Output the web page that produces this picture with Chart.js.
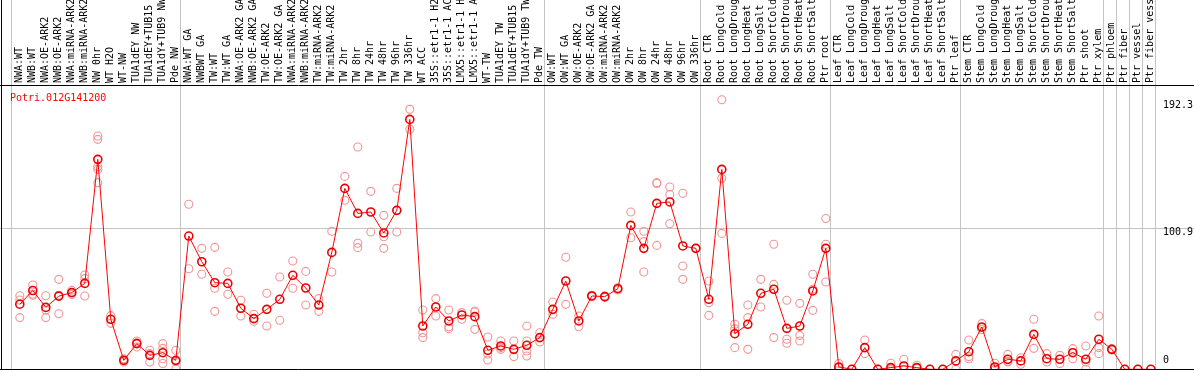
<!DOCTYPE html>
<html><head><meta charset="utf-8">
<script src="https://cdn.jsdelivr.net/npm/chart.js@4.4.1/dist/chart.umd.min.js"></script>
<style>html,body{margin:0;padding:0;background:#fff}canvas{display:block}</style>
</head><body>
<canvas id="c" width="1194" height="370"></canvas>
<script>
const geneId = 'Potri.012G141200';
const categories = [
  'NWA:WT','NWB:WT','NWA:OE-ARK2','NWB:OE-ARK2','NWA:miRNA-ARK2','NWB:miRNA-ARK2','NW 0hr','WT H2O','WT-NW','TUA1dEY NW','TUA1dEY+TUB15','TUA1dY+TUB9 NW','Pde NW',
  'NWA:WT GA','NWBWT GA','TW:WT','TW:WT GA','NWA:OE-ARK2 GA','NWB:OE-ARK2 GA','TW:OE-ARK2','TW:OE-ARK2 GA','NWA:miRNA-ARK2 GA','NWB:miRNA-ARK2 GA','TW:miRNA-ARK2','TW:miRNA-ARK2 GA',
  'TW 2hr','TW 8hr','TW 24hr','TW 48hr','TW 96hr','TW 336hr','WT ACC','35S::etr1-1 H2O','35S::etr1-1 ACC','LMX5::etr1-1 H2O','LMX5::etr1-1 ACC','WT-TW','TUA1dEY TW','TUA1dEY+TUB15 TW','TUA1dY+TUB9 TW','Pde TW',
  'OW:WT','OW:WT GA','OW:OE-ARK2','OW:OE-ARK2 GA','OW:miRNA-ARK2','OW:miRNA-ARK2 GA','OW 2hr','OW 8hr','OW 24hr','OW 48hr','OW 96hr','OW 336hr',
  'Root CTR','Root LongCold','Root LongDrought','Root LongHeat','Root LongSalt','Root ShortCold','Root ShortDrought','Root ShortHeat','Root ShortSalt','Ptr root',
  'Leaf CTR','Leaf LongCold','Leaf LongDrought','Leaf LongHeat','Leaf LongSalt','Leaf ShortCold','Leaf ShortDrought','Leaf ShortHeat','Leaf ShortSalt','Ptr leaf',
  'Stem CTR','Stem LongCold','Stem LongDrought','Stem LongHeat','Stem LongSalt','Stem ShortCold','Stem ShortDrought','Stem ShortHeat','Stem ShortSalt','Ptr shoot','Ptr xylem',
  'Ptr phloem','Ptr fiber','Ptr vessel','Ptr fiber vessel'
];
const meanValues = [
  46.6,56.4,44.3,52.4,54.9,61.5,150.3,35.8,6.4,18.4,10,11.9,6.4,
  95.4,77,62,61.5,43.7,36.3,42.9,50.1,67.3,58.2,46,83.7,
  129.5,111.6,112.6,97.6,113.8,178.9,31,44.6,34.6,38.9,37.7,13.6,16.7,14.3,17.2,22.7,
  42.9,63.2,34.6,52.5,52,57.7,103,86.6,118.8,119.8,88.3,86.6,
  50.1,143.1,25.5,32.2,54.4,57.3,29.3,31,56.1,86.6,
  1.7,0,15.5,0,1.2,2.4,1.2,0,0,6,
  12.6,30.3,1.7,7.2,6,25,7.6,7.2,11.9,7.2,21.5,
  14.3,0,0,0
];
const replicates = [
  [52.7,49.6,37],[60.4,53.7,53],[52.7,42.5,37],[64.4,53,39.8],[56.5,55,53.5],[67.5,64.9,52.5],
  [167,164.6,145,143.1,133.6],[38.4,35.8,32.9],[7.5,6.4,5.2],[20.3,19,16],[13.6,11.2,5.2],[18.4,15,7.5,4.1],[13.6,5.5,0.3],
  [118.1,72],[86.6,68],[87.3,58,41.5],[69.7,53.7],[49.4,38.2],[39.4,34.4],[54.4,31],[66.1,35.1],[77.5,58],[70.1,46],[50.6,41.5],[98.8,69.7],
  [138.1,121],[159.1,90.2,87.1],[127.4,98.3],[110.2,94.9,86.6],[129.5,98.3],[186.1,171.8],[42.5,26.2,22.7],[50.6,38.2],[42.5,30.5,29.1],
  [40.6,35.8],[41.7,41,28.6],[23.1,11,6.7],[20.3,15.5,14.3],[20.3,9.1],[31,20.3,13.1,9.5],[26.2,19.6],
  [48.2,39.4],[80.2,46.5],[38.2,30.5],[53,52,52.5],[52.5,51.5],[58.4,56.8],[112.6,94.2],[98.8,91.4,69.7],[133.6,133,88.7],[130.5,125.2,104.2],[126,74,64.4],[86.6],
  [63.2,47.7,38.6],[193,136.7,97.3],[32.2,29,15.5],[46,37,14.3],[64.4,44.6],[89.5,60.8,22.7],[49.4,21.5,18.6],[47.2,24.3,20.3],[68,57.3,42.2],[108,89.5,62.5],
  [4.1,1],[0,0],[21,11.2],[0,0],[4.3,0],[7.2,0],[2.9,0.6],[0,0],[0,0],[10.7,0],
  [21,9.1,7.6],[32.7,29.8,28.5],[4.3,1,0],[10.7,5.7,5.2],[8.3,3.6],[35.8,15],[11.2,5.2],[10,4.1],[14.8,7.6],[16.7,5.2,0],[38.2,15.5,11.2],
  [14.8,13.8],[0],[0],[0]
];
const yTickValues = [0, 100.9, 192.3];
const groupStarts = [0, 13, 41, 53, 63, 73, 84, 85, 86, 87, 88];

const FONT = '"DejaVu Sans Mono", "Liberation Mono", monospace';
const GRID = '#c4c4c4';
const boundaryValues = groupStarts.map(s => s - 0.62);
const meanPoints = meanValues.map((v, i) => ({x: i, y: v}));
const repPoints = [];
replicates.forEach((arr, i) => arr.forEach(v => repPoints.push({x: i, y: v})));

const decor = {
  id: 'decor',
  afterDraw(chart) {
    const c = chart.ctx;
    c.save();
    c.strokeStyle = '#000';
    c.lineWidth = 1;
    c.beginPath();
    c.moveTo(1.5, 0); c.lineTo(1.5, 370);
    c.moveTo(0, 85.5); c.lineTo(1194, 85.5);
    c.moveTo(0, 369.5); c.lineTo(1194, 369.5);
    c.stroke();
    c.fillStyle = '#ff0000';
    c.font = '10px ' + FONT;
    c.textBaseline = 'alphabetic';
    c.textAlign = 'left';
    c.fillText(geneId, 10, 101);
    c.restore();
  }
};

new Chart(document.getElementById('c'), {
  type: 'line',
  data: {
    datasets: [
      {
        label: geneId,
        data: meanPoints,
        borderColor: '#ff0000',
        borderWidth: 1,
        pointRadius: 4,
        pointBorderWidth: 1.6,
        pointBorderColor: '#e80000',
        pointBackgroundColor: 'rgba(0,0,0,0)',
        fill: false,
        tension: 0,
        order: 0,
        clip: false
      },
      {
        label: 'replicates',
        data: repPoints,
        showLine: false,
        pointRadius: 4,
        pointBorderWidth: 1.1,
        pointBorderColor: 'rgb(240,150,150)',
        pointBackgroundColor: 'rgba(0,0,0,0)',
        order: 1,
        clip: false
      }
    ]
  },
  options: {
    responsive: false,
    animation: false,
    events: [],
    layout: {padding: 0, autoPadding: false},
    plugins: {legend: {display: false}, tooltip: {enabled: false}, title: {display: false}},
    scales: {
      x: {
        type: 'linear',
        position: 'top',
        min: -1.523,
        max: 87.4,
        afterBuildTicks(scale) {
          const t = categories.map((_, i) => i).concat(boundaryValues);
          t.sort((a, b) => a - b);
          scale.ticks = t.map(v => ({value: v}));
        },
        afterFit(scale) { scale.height = 86; scale.paddingLeft = 0; scale.paddingRight = 0; },
        grid: {
          color: (ctx) => (ctx.tick && !Number.isInteger(ctx.tick.value)) ? GRID : 'rgba(0,0,0,0)',
          lineWidth: 1,
          drawTicks: true,
          tickLength: 86
        },
        border: {display: false},
        ticks: {
          autoSkip: false,
          minRotation: 90,
          maxRotation: 90,
          padding: -83,
          labelOffset: 12,
          color: '#000',
          font: {family: FONT, size: 10},
          callback: (v) => Number.isInteger(v) ? categories[v] : ''
        }
      },
      y: {
        type: 'linear',
        position: 'right',
        min: -0.5,
        max: 202.8,
        afterBuildTicks(scale) { scale.ticks = yTickValues.map(v => ({value: v})); },
        afterFit(scale) { scale.width = 38; },
        grid: {
          color: (ctx) => (ctx.tick && ctx.tick.value === 100.9) ? GRID : 'rgba(0,0,0,0)',
          lineWidth: 1,
          drawTicks: true,
          tickLength: 38
        },
        border: {display: false},
        ticks: {
          padding: -31,
          crossAlign: 'near',
          color: '#000',
          font: {family: FONT, size: 10, lineHeight: 0.9},
          callback: (v) => v === 0 ? ['0', '', ''] : ['', String(v)]
        }
      }
    }
  },
  plugins: [decor]
});
</script>
</body></html>
